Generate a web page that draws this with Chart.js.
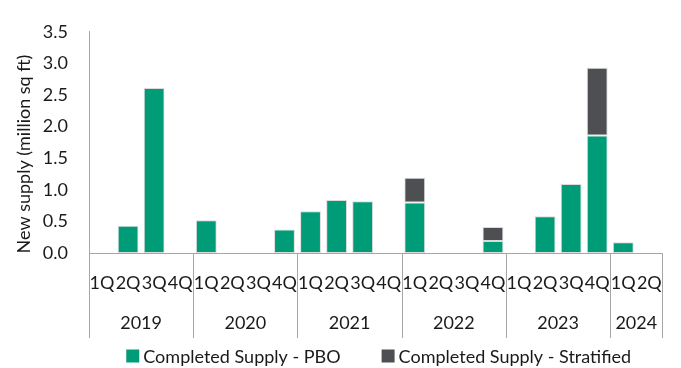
<!DOCTYPE html>
<html>
<head>
<meta charset="utf-8">
<script src="https://cdn.jsdelivr.net/npm/chart.js@4/dist/chart.umd.min.js"></script>
<style>
  html, body { margin: 0; padding: 0; background: #ffffff; }
  #wrap { width: 681px; height: 368px; position: relative; }
</style>
</head>
<body>
<div id="wrap"><canvas id="supply"></canvas></div>
<script>
// Quarterly categories, grouped by year
const quarterLabels = ['1Q','2Q','3Q','4Q', '1Q','2Q','3Q','4Q', '1Q','2Q','3Q','4Q',
                       '1Q','2Q','3Q','4Q', '1Q','2Q','3Q','4Q', '1Q','2Q'];
const years = ['2019', '2020', '2021', '2022', '2023', '2024'];
const quartersPerYear = [4, 4, 4, 4, 4, 2];

// New supply, million sq ft
const pboSupply = [null, 0.43, 2.61, null,  0.52, null, null, 0.37,  0.66, 0.84, 0.82, null,
                   0.80, null, null, 0.19,  null, 0.58, 1.09, 1.86,  0.17, null];
const stratifiedSupply = [null, null, null, null,  null, null, null, null,  null, null, null, null,
                          0.39, null, null, 0.22,  null, null, null, 1.07,  null, null];

const yTicks = [0, 0.5, 1.0, 1.5, 2.0, 2.5, 3.0, 3.5];
const yTitle = 'New supply (million sq ft)';
const seriesNames = ['Completed Supply - PBO', 'Completed Supply - Stratified'];

const GREEN = '#009b77';
const DARK = '#4d4f53';
const AXIS = '#a6a6a6';
const TEXT = '#1a1a1a';
const FONT = 'Lato, "Open Sans", sans-serif';
const FONT_SIZE = 18;

Chart.defaults.font.family = FONT;
Chart.defaults.font.size = FONT_SIZE;
Chart.defaults.color = TEXT;

// Year row, year separators, rotated y title and the legend
const decorations = {
  id: 'decorations',
  afterDraw(chart) {
    const ctx = chart.ctx;
    const x = chart.scales.x;
    const area = chart.chartArea;
    const step = x.getPixelForValue(1) - x.getPixelForValue(0);
    const sepBottom = x.bottom;

    ctx.save();
    // year separators and year labels
    ctx.strokeStyle = AXIS;
    ctx.lineWidth = 1;
    ctx.fillStyle = TEXT;
    ctx.font = FONT_SIZE + 'px ' + FONT;
    ctx.textAlign = 'center';
    ctx.textBaseline = 'middle';
    let idx = 0;
    const edges = [];
    years.forEach((yr, i) => {
      const left = x.getPixelForValue(idx) - step / 2;
      const right = x.getPixelForValue(idx + quartersPerYear[i] - 1) + step / 2;
      if (i === 0) edges.push(left);
      edges.push(right);
      ctx.fillText(yr, (left + right) / 2, area.bottom + 70);
      idx += quartersPerYear[i];
    });
    edges.forEach(e => {
      const px = Math.round(e) + 0.5;
      ctx.beginPath();
      ctx.moveTo(px, area.bottom);
      ctx.lineTo(px, sepBottom);
      ctx.stroke();
    });

    // y axis title
    ctx.save();
    ctx.translate(24, 154);
    ctx.rotate(-Math.PI / 2);
    ctx.textAlign = 'center';
    ctx.textBaseline = 'middle';
    ctx.fillText(yTitle, 0, 0);
    ctx.restore();

    // legend
    const box = 13, boxGap = 4, itemGap = 41;
    const widths = chart.data.datasets.map(d => ctx.measureText(d.label).width);
    const total = widths.reduce((s, w) => s + box + boxGap + w, 0) + itemGap * (widths.length - 1);
    let lx = (area.left + area.right) / 2 + 3 - total / 2;
    const ly = 356;
    ctx.textAlign = 'left';
    chart.data.datasets.forEach((d, i) => {
      ctx.fillStyle = d.backgroundColor;
      ctx.fillRect(lx, ly - box / 2, box, box);
      ctx.fillStyle = TEXT;
      ctx.fillText(d.label, lx + box + boxGap, ly + 1);
      lx += box + boxGap + widths[i] + itemGap;
    });
    ctx.restore();
  }
};

new Chart(document.getElementById('supply'), {
  type: 'bar',
  data: {
    labels: quarterLabels,
    datasets: [
      {
        label: seriesNames[0],
        data: pboSupply,
        backgroundColor: GREEN,
        borderColor: 'rgba(215,215,215,0.9)',
        borderWidth: 1,
        borderSkipped: false,
        barPercentage: 0.8,
        categoryPercentage: 1.0
      },
      {
        label: seriesNames[1],
        data: stratifiedSupply,
        backgroundColor: DARK,
        borderColor: 'rgba(215,215,215,0.9)',
        borderWidth: 1,
        borderSkipped: false,
        barPercentage: 0.8,
        categoryPercentage: 1.0
      }
    ]
  },
  options: {
    responsive: true,
    maintainAspectRatio: false,
    animation: false,
    layout: { padding: { top: 22, bottom: 30, left: 0, right: 11 } },
    plugins: {
      legend: { display: false },
      tooltip: { enabled: false }
    },
    scales: {
      x: {
        stacked: true,
        grid: { display: false, drawTicks: false },
        border: { display: true, color: AXIS, width: 1 },
        ticks: { autoSkip: false, maxRotation: 0, minRotation: 0, padding: 19, color: TEXT },
        afterFit(scale) { scale.height = 85; }
      },
      y: {
        stacked: true,
        min: 0,
        max: 3.5,
        afterBuildTicks(scale) { scale.ticks = yTicks.map(v => ({ value: v })); },
        grid: { display: false, drawTicks: false },
        border: { display: true, color: AXIS, width: 1 },
        ticks: {
          padding: 21,
          color: TEXT,
          callback: v => Number(v).toFixed(1)
        },
        afterFit(scale) { scale.width = 89; }
      }
    }
  },
  plugins: [decorations]
});
</script>
</body>
</html>
